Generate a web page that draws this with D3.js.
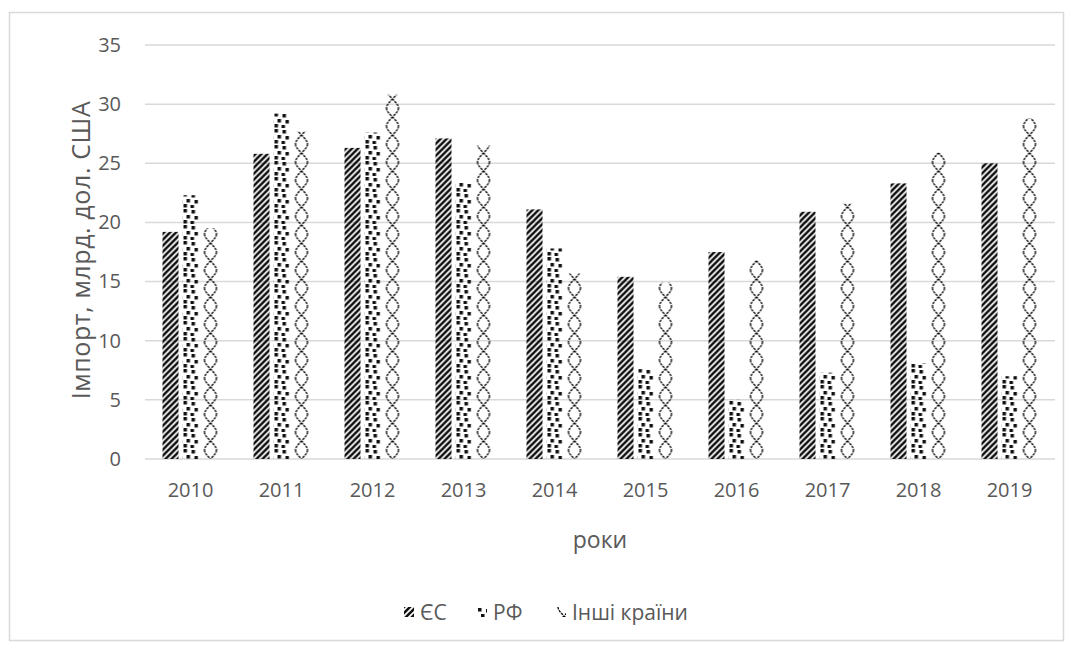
<!DOCTYPE html>
<html>
  <head>
    <meta charset="utf-8">
    <script src="https://cdn.jsdelivr.net/npm/d3@7"></script>
    <style>
      body { margin: 0; background: #fff; }
      text { font-family: "Open Sans", "Noto Sans", sans-serif; fill: #595959; }
    </style>
  </head>
  <body>
    <svg id="chart"></svg>
    <script>

    var width = 1075
    var height = 649

    // data (billion USD)
    var years = ["2010", "2011", "2012", "2013", "2014", "2015", "2016", "2017", "2018", "2019"]
    var seriesNames = ["ЄС", "РФ", "Інші країни"]
    var euValues = [19.2, 25.8, 26.3, 27.1, 21.1, 15.4, 17.5, 20.9, 23.3, 25.0]
    var ruValues = [22.3, 29.2, 27.6, 23.4, 17.8, 7.6, 5.0, 7.3, 8.1, 7.0]
    var otherValues = [19.5, 27.7, 30.8, 26.5, 15.7, 14.9, 16.8, 21.6, 25.9, 28.8]
    var yTicks = [0, 5, 10, 15, 20, 25, 30, 35]

    var seriesValues = [euValues, ruValues, otherValues]
    var patternIds = ["pat-eu", "pat-ru", "pat-other"]

    var svg = d3.select("#chart")
      .attr("width", width)
      .attr("height", height)

    // fill patterns (like Excel pattern fills)
    var defs = svg.append("defs")

    var pEu = defs.append("pattern")
      .attr("id", "pat-eu")
      .attr("patternUnits", "userSpaceOnUse")
      .attr("width", 6).attr("height", 6)
    pEu.append("path")
      .attr("d", "M-1,7 L7,-1 M-4,4 L4,-4 M2,10 L10,2")
      .attr("stroke", "#111").attr("stroke-width", 2.6)

    var pRu = defs.append("pattern")
      .attr("id", "pat-ru")
      .attr("patternUnits", "userSpaceOnUse")
      .attr("width", 16).attr("height", 16)
    var dots = [[1,1],[9,2],[4,7],[12,8],[1,12],[8,13]]
    dots.forEach(function(d) {
      pRu.append("rect")
        .attr("x", d[0]).attr("y", d[1])
        .attr("width", 3.5).attr("height", 3.5)
        .attr("fill", "#111")
    })

    var pOther = defs.append("pattern")
      .attr("id", "pat-other")
      .attr("patternUnits", "userSpaceOnUse")
      .attr("width", 16).attr("height", 18)
    pOther.append("path")
      .attr("d", "M2,0 C2,6 14,12 14,18 M14,0 C14,6 2,12 2,18")
      .attr("fill", "none")
      .attr("stroke", "#000").attr("stroke-width", 1.3)
      .attr("stroke-dasharray", "2.5,1")

    // outer frame
    svg.append("rect")
      .attr("x", 9.5).attr("y", 12.5)
      .attr("width", 1054).attr("height", 628)
      .attr("fill", "none")
      .attr("stroke", "#d9d9d9")
      .attr("stroke-width", 1.5)

    var plotLeft = 145, plotRight = 1055, plotTop = 45, plotBottom = 459

    var x0 = d3.scaleBand().domain(years).range([plotLeft, plotRight])
    var bw = x0.bandwidth()
    var x1 = d3.scaleBand().domain(d3.range(3))
      .range([bw / 2 - 30, bw / 2 + 30])
      .paddingInner(0.2).paddingOuter(0.1)
    var y = d3.scaleLinear().domain([0, 35]).range([plotBottom, plotTop])

    // grid lines
    svg.append("g")
      .selectAll("line")
      .data(yTicks)
      .enter().append("line")
      .attr("x1", plotLeft).attr("x2", plotRight)
      .attr("y1", function(d) { return y(d) })
      .attr("y2", function(d) { return y(d) })
      .attr("stroke", "#d9d9d9")
      .attr("stroke-width", 1.5)

    // y axis labels
    var yAxis = svg.append("g")
      .attr("transform", "translate(" + (plotLeft - 14) + ",0)")
      .call(d3.axisLeft(y).tickValues(yTicks).tickSize(0).tickPadding(10))
    yAxis.select(".domain").remove()
    yAxis.selectAll("text")
      .style("font-size", "20px")
      .style("font-family", "\"Open Sans\", sans-serif")
      .attr("fill", "#595959")

    // x axis labels
    var xAxis = svg.append("g")
      .attr("transform", "translate(0," + plotBottom + ")")
      .call(d3.axisBottom(x0).tickSize(0).tickPadding(24))
    xAxis.select(".domain").remove()
    xAxis.selectAll("text")
      .style("font-size", "20px")
      .style("font-family", "\"Open Sans\", sans-serif")
      .attr("fill", "#595959")

    // bars: each rect is translated so the pattern lines up with its left edge
    var groups = svg.append("g")
      .selectAll("g")
      .data(years)
      .enter().append("g")
      .attr("transform", function(d) { return "translate(" + x0(d) + ",0)" })

    groups.selectAll("rect")
      .data(function(d, i) { return seriesValues.map(function(s, k) { return {k: k, v: s[i]} }) })
      .enter().append("rect")
      .attr("transform", function(d) { return "translate(" + x1(d.k) + ",0)" })
      .attr("x", 0)
      .attr("width", x1.bandwidth())
      .attr("y", function(d) { return y(d.v) })
      .attr("height", function(d) { return plotBottom - y(d.v) })
      .attr("fill", function(d) { return "url(#" + patternIds[d.k] + ")" })

    // axis titles
    svg.append("text")
      .attr("transform", "translate(90," + ((plotTop + plotBottom) / 2 - 2) + ") rotate(-90)")
      .attr("text-anchor", "middle")
      .style("font-size", "25px")
      .style("letter-spacing", "0.6px")
      .text("Імпорт, млрд. дол. США")

    svg.append("text")
      .attr("x", (plotLeft + plotRight) / 2)
      .attr("y", 548)
      .attr("text-anchor", "middle")
      .style("font-size", "23px")
      .text("роки")

    // legend
    var legendX = [404, 477, 556]
    var legend = svg.append("g")
      .selectAll("g")
      .data(seriesNames)
      .enter().append("g")
      .attr("transform", function(d, i) { return "translate(" + legendX[i] + ",607)" })
    legend.append("rect")
      .attr("width", 10).attr("height", 10)
      .attr("fill", function(d, i) { return "url(#" + patternIds[i] + ")" })
    legend.append("text")
      .attr("x", 16).attr("y", 13)
      .style("font-size", "21px")
      .text(function(d) { return d })

    </script>
  </body>
</html>
